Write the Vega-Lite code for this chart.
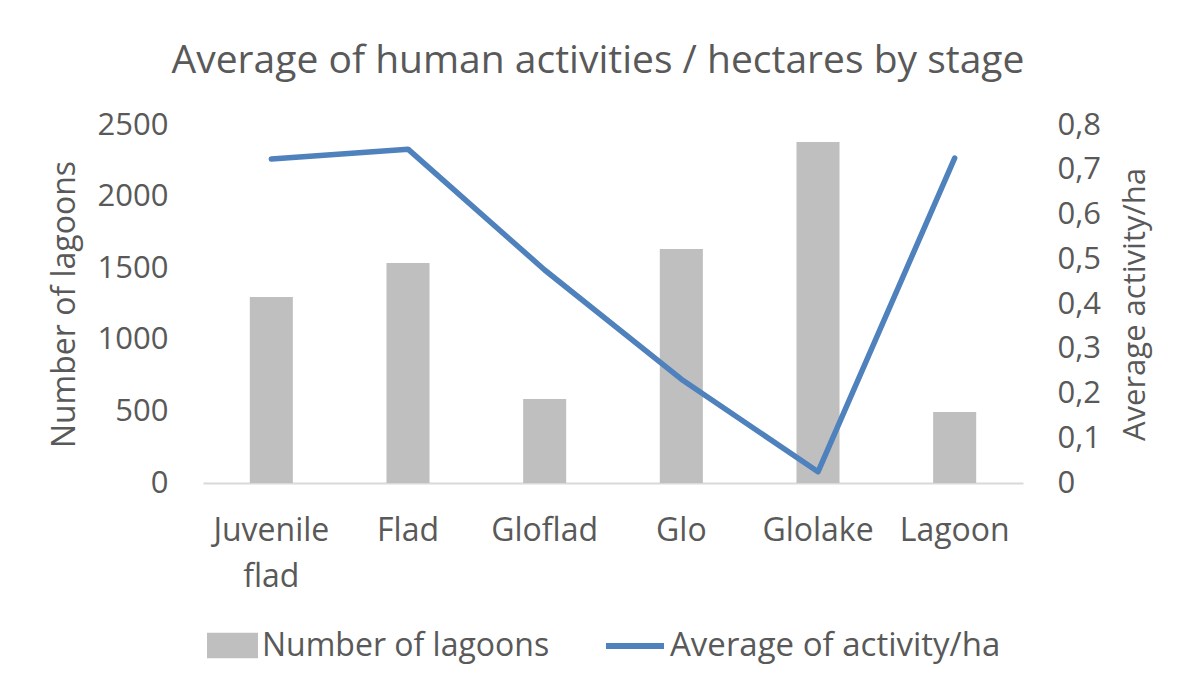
{
  "$schema": "https://vega.github.io/schema/vega-lite/v6.json",
  "autosize": {"type": "none"},
  "width": 820,
  "height": 358,
  "padding": {"left": 203, "top": 125, "right": 166, "bottom": 205},
  "background": "white",
  "title": {
    "text": "Average of human activities / hectares by stage",
    "font": "Open Sans",
    "fontSize": 39,
    "fontWeight": "normal",
    "color": "#595959",
    "anchor": "middle",
    "dx": -15,
    "offset": 28
  },
  "data": {
    "values": [
      {"stage": "Juvenile flad", "lagoons": 1299, "activity": 0.724},
      {"stage": "Flad", "lagoons": 1536, "activity": 0.746},
      {"stage": "Gloflad", "lagoons": 587, "activity": 0.476},
      {"stage": "Glo", "lagoons": 1634, "activity": 0.232},
      {"stage": "Glolake", "lagoons": 2381, "activity": 0.025},
      {"stage": "Lagoon", "lagoons": 496, "activity": 0.726}
    ]
  },
  "encoding": {
    "x": {
      "field": "stage",
      "type": "nominal",
      "sort": null,
      "scale": {"paddingInner": 0.685, "paddingOuter": 0.3425},
      "axis": {
        "title": null,
        "labelAngle": 0,
        "labelFont": "Open Sans",
        "labelFontSize": 32,
        "labelColor": "#595959",
        "labelPadding": 32,
        "labelLineHeight": 46,
        "labelBaseline": "top",
        "labelExpr": "datum.label == 'Juvenile flad' ? ['Juvenile', 'flad'] : datum.label",
        "ticks": false,
        "domainColor": "#D9D9D9",
        "domainWidth": 2,
        "grid": false
      }
    }
  },
  "layer": [
    {
      "mark": {"type": "bar", "color": "#BFBFBF"},
      "encoding": {
        "y": {
          "field": "lagoons",
          "type": "quantitative",
          "scale": {"domain": [0, 2500], "nice": false},
          "axis": {
            "title": "Number of lagoons",
            "titleFont": "Open Sans",
            "titleFontSize": 32,
            "titleFontWeight": "normal",
            "titleColor": "#595959",
            "titlePadding": 16,
            "values": [0, 500, 1000, 1500, 2000, 2500],
            "format": "d",
            "labelFont": "Open Sans",
            "labelFontSize": 31,
            "labelColor": "#595959",
            "labelPadding": 35,
            "ticks": false,
            "domain": false,
            "grid": false
          }
        },
        "fill": {
          "datum": "Number of lagoons",
          "type": "nominal",
          "scale": {"range": ["#BFBFBF"]},
          "legend": {
            "orient": "none",
            "legendX": 4,
            "legendY": 495,
            "title": null,
            "padding": 0,
            "symbolType": "M-1,-0.5H1V0.5H-1Z",
            "symbolSize": 2601,
            "symbolStrokeWidth": 0,
            "symbolOpacity": 1,
            "labelFont": "Open Sans",
            "labelFontSize": 32,
            "labelColor": "#595959",
            "labelOffset": 4,
            "labelLimit": 400
          }
        }
      }
    },
    {
      "mark": {"type": "line", "strokeWidth": 5.5, "strokeCap": "round", "strokeJoin": "round"},
      "encoding": {
        "y": {
          "field": "activity",
          "type": "quantitative",
          "scale": {"domain": [0, 0.8], "nice": false},
          "axis": {
            "orient": "right",
            "title": "Average activity/ha",
            "titleFont": "Open Sans",
            "titleFontSize": 31,
            "titleFontWeight": "normal",
            "titleColor": "#595959",
            "titleAngle": 270,
            "titleBaseline": "top",
            "titlePadding": 20,
            "values": [0, 0.1, 0.2, 0.3, 0.4, 0.5, 0.6, 0.7, 0.8],
            "labelExpr": "datum.value == 0 ? '0' : replace(format(datum.value, '.1f'), '.', ',')",
            "labelFont": "Open Sans",
            "labelFontSize": 31,
            "labelColor": "#595959",
            "labelPadding": 34,
            "ticks": false,
            "domain": false,
            "grid": false
          }
        },
        "stroke": {
          "datum": "Average of activity/ha",
          "type": "nominal",
          "scale": {"range": ["#4F81BD"]},
          "legend": {
            "orient": "none",
            "legendX": 400,
            "legendY": 489,
            "title": null,
            "padding": 0,
            "symbolType": "stroke",
            "symbolSize": 3364,
            "symbolStrokeWidth": 6,
            "labelFont": "Open Sans",
            "labelFontSize": 33,
            "labelColor": "#595959",
            "labelOffset": 3,
            "labelLimit": 400
          }
        }
      }
    }
  ],
  "resolve": {"scale": {"y": "independent"}},
  "config": {"view": {"stroke": null}}
}
